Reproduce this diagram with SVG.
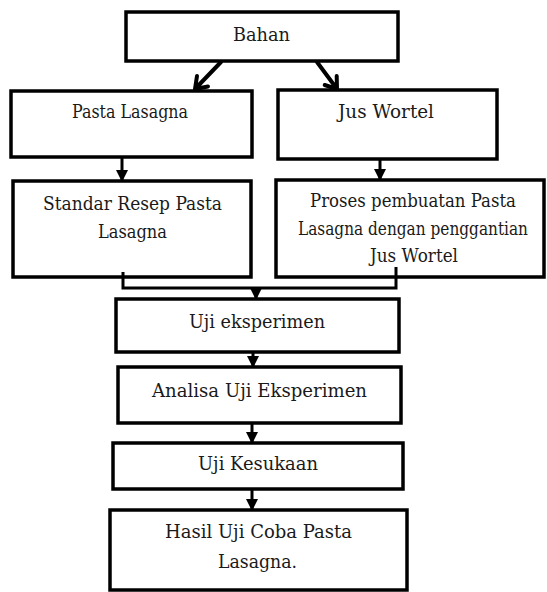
<svg xmlns="http://www.w3.org/2000/svg" width="547" height="592" viewBox="0 0 547 592">
<style>
.box{fill:#fff;stroke:#000;stroke-width:3.5}
text{font-family:"DejaVu Serif",serif;font-size:18px;fill:#1a1a1a;text-anchor:middle}
.c{fill:none;stroke:#000;stroke-width:3}
.v{fill:none;stroke:#000;stroke-width:4;stroke-linecap:round;stroke-linejoin:round}
</style>
<defs>
<marker id="tri" viewBox="0 0 12 12" refX="11" refY="6" markerWidth="12" markerHeight="12" orient="auto" markerUnits="userSpaceOnUse">
<path d="M0,0 L12,6 L0,12 Z" fill="#000"/>
</marker>
</defs>
<g id="bahan"><rect class="box" x="126" y="12" width="272" height="49"/><text x="261.5" y="41" textLength="57" lengthAdjust="spacingAndGlyphs">Bahan</text></g>
<g id="pasta"><rect class="box" x="11" y="91" width="241" height="66"/><text x="130" y="118" textLength="116" lengthAdjust="spacingAndGlyphs">Pasta Lasagna</text></g>
<g id="jus"><rect class="box" x="278" y="90" width="219" height="69"/><text x="386" y="118" textLength="96" lengthAdjust="spacingAndGlyphs">Jus Wortel</text></g>
<g id="standar"><rect class="box" x="13" y="181" width="238" height="96"/><text x="132.5" y="210" textLength="179" lengthAdjust="spacingAndGlyphs">Standar Resep Pasta</text><text x="132.5" y="238" textLength="69" lengthAdjust="spacingAndGlyphs">Lasagna</text></g>
<g id="proses"><rect class="box" x="276" y="180" width="268" height="97"/><text x="413" y="207" textLength="206" lengthAdjust="spacingAndGlyphs">Proses pembuatan Pasta</text><text x="413" y="235" font-size="16.5" textLength="230" lengthAdjust="spacingAndGlyphs">Lasagna dengan penggantian</text><text x="414" y="262" textLength="88" lengthAdjust="spacingAndGlyphs">Jus Wortel</text></g>
<g id="uji"><rect class="box" x="116" y="299" width="283" height="53"/><text x="257" y="328" textLength="136" lengthAdjust="spacingAndGlyphs">Uji eksperimen</text></g>
<g id="analisa"><rect class="box" x="118" y="367" width="283" height="56"/><text x="259.5" y="397" textLength="215" lengthAdjust="spacingAndGlyphs">Analisa Uji Eksperimen</text></g>
<g id="kesukaan"><rect class="box" x="113" y="443" width="290" height="46"/><text x="258" y="470" textLength="120" lengthAdjust="spacingAndGlyphs">Uji Kesukaan</text></g>
<g id="hasil"><rect class="box" x="110" y="510" width="297" height="80"/><text x="258.5" y="538" textLength="187" lengthAdjust="spacingAndGlyphs">Hasil Uji Coba Pasta</text><text x="257.5" y="568" textLength="79" lengthAdjust="spacingAndGlyphs">Lasagna.</text></g>
<g id="connectors">
<path class="v" d="M221,62 L195,89 M197,76 L195,89 L208,86.5"/>
<path class="v" d="M317,62 L337,89 M336.7,76 L337,89 L324.7,85"/>
<line class="c" x1="122" y1="158" x2="122" y2="181" marker-end="url(#tri)"/>
<line class="c" x1="380" y1="160" x2="380" y2="180" marker-end="url(#tri)"/>
<path class="c" d="M123,272 V288 H396 V267"/>
<line class="c" x1="256" y1="287" x2="256" y2="299" marker-end="url(#tri)"/>
<line class="c" x1="253" y1="353" x2="253" y2="367" marker-end="url(#tri)"/>
<line class="c" x1="252" y1="424" x2="252" y2="443" marker-end="url(#tri)"/>
<line class="c" x1="252" y1="490" x2="252" y2="510" marker-end="url(#tri)"/>
</g>
</svg>
